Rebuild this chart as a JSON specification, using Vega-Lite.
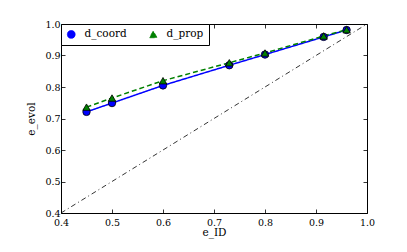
{
  "$schema": "https://vega.github.io/schema/vega-lite/v6.json",
  "autosize": "none",
  "width": 306,
  "height": 189,
  "padding": {"left": 61, "top": 24, "right": 40, "bottom": 39},
  "background": "white",
  "config": {
    "view": {"stroke": "black", "strokeWidth": 1},
    "font": "DejaVu Serif",
    "axis": {
      "domain": false,
      "grid": false,
      "ticks": true,
      "tickColor": "black",
      "tickSize": -4,
      "tickWidth": 0.8,
      "labelFlush": false,
      "labelFont": "DejaVu Serif",
      "labelFontSize": 9.5,
      "labelColor": "black",
      "titleFont": "DejaVu Serif",
      "titleFontSize": 10.5,
      "titleFontWeight": "normal",
      "titleColor": "black"
    },
    "legend": {
      "orient": "top-left",
      "offset": 0,
      "direction": "horizontal",
      "strokeColor": "black",
      "fillColor": "white",
      "padding": 5,
      "columnPadding": 20,
      "labelOffset": 8,
      "labelFont": "DejaVu Serif",
      "labelFontSize": 10.5,
      "labelColor": "black",
      "symbolSize": 60,
      "symbolStrokeColor": "black",
      "symbolStrokeWidth": 0.8
    }
  },
  "datasets": {
    "series": [
      {"eID": 0.45, "eevol": 0.721, "method": "d_coord"},
      {"eID": 0.5, "eevol": 0.749, "method": "d_coord"},
      {"eID": 0.6, "eevol": 0.805, "method": "d_coord"},
      {"eID": 0.73, "eevol": 0.869, "method": "d_coord"},
      {"eID": 0.8, "eevol": 0.903, "method": "d_coord"},
      {"eID": 0.915, "eevol": 0.959, "method": "d_coord"},
      {"eID": 0.96, "eevol": 0.981, "method": "d_coord"},
      {"eID": 0.45, "eevol": 0.736, "method": "d_prop"},
      {"eID": 0.5, "eevol": 0.765, "method": "d_prop"},
      {"eID": 0.6, "eevol": 0.82, "method": "d_prop"},
      {"eID": 0.73, "eevol": 0.877, "method": "d_prop"},
      {"eID": 0.8, "eevol": 0.908, "method": "d_prop"},
      {"eID": 0.915, "eevol": 0.962, "method": "d_prop"},
      {"eID": 0.96, "eevol": 0.982, "method": "d_prop"}
    ],
    "diag": [
      {"eID": 0.4, "eevol": 0.4},
      {"eID": 1.0, "eevol": 1.0}
    ]
  },
  "layer": [
    {
      "data": {"name": "diag"},
      "mark": {"type": "line", "color": "black", "strokeWidth": 0.8, "strokeDash": [5, 3, 1, 3]},
      "encoding": {
        "x": {"field": "eID", "type": "quantitative", "scale": {"domain": [0.4, 1.0], "nice": false, "zero": false},
              "axis": {"orient": "bottom", "title": "e_ID", "values": [0.4, 0.5, 0.6, 0.7, 0.8, 0.9, 1.0], "format": ".1f", "labelPadding": 8, "titlePadding": 1}},
        "y": {"field": "eevol", "type": "quantitative", "scale": {"domain": [0.4, 1.0], "nice": false, "zero": false},
              "axis": {"orient": "left", "title": "e_evol", "values": [0.4, 0.5, 0.6, 0.7, 0.8, 0.9, 1.0], "format": ".1f", "labelPadding": 5, "titlePadding": 8}}
      }
    },
    {
      "data": {"name": "series"},
      "mark": {"type": "line", "strokeWidth": 1.5},
      "encoding": {
        "x": {"field": "eID", "type": "quantitative", "scale": {"domain": [0.4, 1.0], "nice": false, "zero": false},
              "axis": {"orient": "top", "title": null, "labels": false, "values": [0.4, 0.5, 0.6, 0.7, 0.8, 0.9, 1.0]}},
        "y": {"field": "eevol", "type": "quantitative", "scale": {"domain": [0.4, 1.0], "nice": false, "zero": false},
              "axis": {"orient": "right", "title": null, "labels": false, "values": [0.4, 0.5, 0.6, 0.7, 0.8, 0.9, 1.0]}},
        "color": {"field": "method", "type": "nominal", "title": null, "scale": {"domain": ["d_coord", "d_prop"], "range": ["#0000ff", "#008000"]}},
        "strokeDash": {"field": "method", "type": "nominal", "title": null, "scale": {"domain": ["d_coord", "d_prop"], "range": [[1, 0], [5, 3]]}}
      }
    },
    {
      "data": {"name": "series"},
      "mark": {"type": "point", "filled": true, "stroke": "black", "strokeWidth": 0.8, "size": 55, "opacity": 1},
      "encoding": {
        "x": {"field": "eID", "type": "quantitative", "scale": {"domain": [0.4, 1.0], "nice": false, "zero": false}, "axis": null},
        "y": {"field": "eevol", "type": "quantitative", "scale": {"domain": [0.4, 1.0], "nice": false, "zero": false}, "axis": null},
        "fill": {"field": "method", "type": "nominal", "title": null, "scale": {"domain": ["d_coord", "d_prop"], "range": ["#0000ff", "#008000"]}},
        "shape": {"field": "method", "type": "nominal", "title": null, "scale": {"domain": ["d_coord", "d_prop"], "range": ["circle", "triangle-up"]}}
      }
    }
  ],
  "resolve": {"axis": {"x": "independent", "y": "independent"}}
}
